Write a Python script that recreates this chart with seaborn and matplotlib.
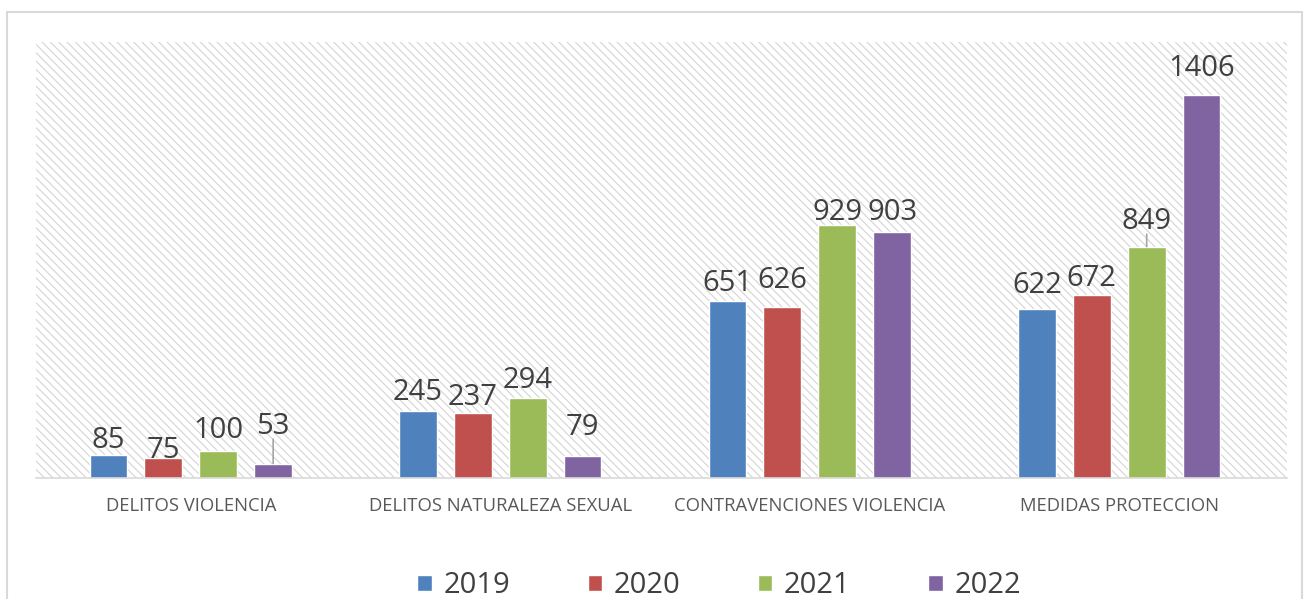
import matplotlib
matplotlib.use("Agg")
import matplotlib.pyplot as plt
from matplotlib.patches import Rectangle
import pandas as pd
import seaborn as sns

categories = ["DELITOS VIOLENCIA", "DELITOS NATURALEZA SEXUAL",
              "CONTRAVENCIONES VIOLENCIA", "MEDIDAS PROTECCION"]
years = ["2019", "2020", "2021", "2022"]
v2019 = [85, 245, 651, 622]
v2020 = [75, 237, 626, 672]
v2021 = [100, 294, 929, 849]
v2022 = [53, 79, 903, 1406]

colors = ["#4F81BD", "#C0504D", "#9BBB59", "#8064A2"]

# gap (px) between bar top and label baseline, as placed in the original
label_gap = {
    "2019": [7, 11, 10, 16],
    "2020": [0, 8, 19, 9],
    "2021": [13, 10, 5, 18],
    "2022": [30, 21, 12, 19],
}
leaders = {("2022", 0), ("2021", 3)}

rows = []
for yr, vals in zip(years, [v2019, v2020, v2021, v2022]):
    for cat, v in zip(categories, vals):
        rows.append({"cat": cat, "year": yr, "value": v})
df = pd.DataFrame(rows)

sns.set_theme(style="white")
plt.rcParams["font.family"] = ["Open Sans", "DejaVu Sans"]
plt.rcParams["hatch.linewidth"] = 0.8

fig = plt.figure(figsize=(13.05, 5.99), dpi=100)
ax = fig.add_axes([36 / 1305, 1 - 478 / 599, (1287 - 36) / 1305, (478 - 42) / 599])

# hatched plot background
ax.add_patch(Rectangle((0, 0), 1, 1, transform=ax.transAxes, facecolor="white",
                       edgecolor="#D4D4D4", hatch="\\\\\\\\", lw=0, zorder=0))

sns.barplot(data=df, x="cat", y="value", hue="year", hue_order=years,
            order=categories, palette=colors, width=0.71, gap=0.315,
            saturation=1, ax=ax, zorder=2, legend=True)

ax.set_ylim(0, 1600)
ax.set_xlim(-0.5, 3.542)
ax.set_yticks([])
ax.set_xlabel("")
ax.set_ylabel("")
for s in ["top", "left", "right"]:
    ax.spines[s].set_visible(False)
ax.spines["bottom"].set_color("#D9D9D9")
ax.spines["bottom"].set_linewidth(1.2)
ax.tick_params(axis="x", length=0, pad=14, labelsize=13.3, labelcolor="#595959")

for yr, cont in zip(years, ax.containers):
    for i, bar in enumerate(cont):
        h = bar.get_height()
        xc = bar.get_x() + bar.get_width() / 2
        gap = label_gap[yr][i] * 0.72
        ax.annotate(f"{int(h)}", (xc, h), xytext=(0, gap), textcoords="offset points",
                    ha="center", va="baseline", fontsize=21, color="#404040", zorder=4)
        if (yr, i) in leaders:
            ax.annotate("", (xc, h), xytext=(0, gap - 4), textcoords="offset points",
                        arrowprops=dict(arrowstyle="-", color="#A6A6A6", lw=1.2,
                                        shrinkA=0, shrinkB=0))

handles, labels = ax.get_legend_handles_labels()
ax.get_legend().remove()
fig.legend(handles, labels, loc="center", bbox_to_anchor=(0.551, 0.022), ncol=4,
           frameon=False, fontsize=21, handlelength=0.5, handleheight=0.5,
           handletextpad=0.4, columnspacing=2.65, labelcolor="#404040",
           borderpad=0.1)

# outer chart border
fig.patches.append(Rectangle((7 / 1305, -0.1), (1302 - 7) / 1305, (599 - 12) / 599 + 0.1,
                             transform=fig.transFigure, fill=False,
                             edgecolor="#D9D9D9", lw=1.5))

fig.savefig("out.png", dpi=100)
